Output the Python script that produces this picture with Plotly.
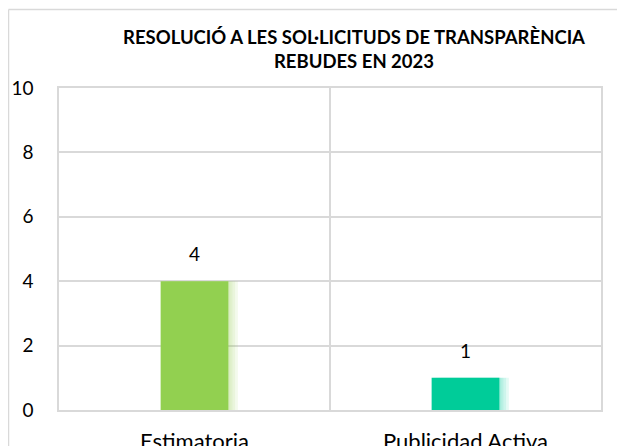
import plotly.graph_objects as go

categories = ["Estimatoria", "Publicidad Activa"]
values = [4, 1]
colors = ["#92D050", "#00CC99"]
glow_colors = ["rgba(146,208,80,0.10)", "rgba(0,204,153,0.10)"]
title_lines = ["RESOLUCIÓ A LES SOL·LICITUDS DE TRANSPARÈNCIA", "REBUDES EN 2023"]
y_ticks = [0, 2, 4, 6, 8, 10]

FONT = "Lato, 'Open Sans', sans-serif"
xpos = list(range(len(categories)))

# page body adds ~8px offset, so the figure is slightly smaller than the window
W, H = 617, 438
L, R, T, B = 51, 24, 80, 36
PW, PH = W - L - R, H - T - B

fig = go.Figure()
# soft glow on right side of bars
for off in [0.035, 0.025, 0.015, 0.007]:
    fig.add_trace(go.Bar(x=[p + off for p in xpos], y=values, width=0.25,
                         marker=dict(color=glow_colors, line=dict(width=0)),
                         hoverinfo="skip", showlegend=False))
fig.add_trace(go.Bar(x=xpos, y=values, width=0.25,
                     marker=dict(color=colors, line=dict(width=0)),
                     showlegend=False))

annotations = [dict(x=p, y=v, xref="x", yref="y", text=str(v), showarrow=False,
                    yanchor="bottom", yshift=14,
                    font=dict(size=19, color="#000000", family=FONT))
               for p, v in zip(xpos, values)]

def px_x(v):
    return (v - L) / PW

def px_y(v):
    return (PH + T - v) / PH

border = dict(color="#d9d9d9", width=1.5)

fig.update_layout(
    width=W, height=H,
    margin=dict(l=L, r=R, t=T, b=B),
    paper_bgcolor="white", plot_bgcolor="white",
    barmode="overlay", showlegend=False,
    font=dict(family=FONT, color="#000000"),
    title=dict(text="<b>" + "<br>".join(title_lines) + "</b>",
               x=346 / W, xanchor="center", y=1 - 36 / H, yanchor="top",
               font=dict(size=18.5, family=FONT, color="#000000")),
    xaxis=dict(range=[-0.5, 1.5], tickvals=xpos, ticktext=categories,
               showgrid=False, zeroline=False, automargin=False,
               showline=True, linecolor="#d9d9d9", linewidth=1.5, mirror=True,
               ticks="", tickfont=dict(size=22, color="#000000"),
               ticklabelstandoff=11,
               minor=dict(tickvals=[0.5], showgrid=True, gridcolor="#d9d9d9", gridwidth=1.5, ticks="")),
    yaxis=dict(range=[0, 10], tickvals=y_ticks, showgrid=True, gridcolor="#d9d9d9", gridwidth=1.5,
               zeroline=False, showline=True, linecolor="#d9d9d9", linewidth=1.5, mirror=True,
               automargin=False,
               ticks="", tickfont=dict(size=19, color="#000000"), ticklabelstandoff=20),
    annotations=annotations,
    shapes=[
        dict(type="line", xref="paper", yref="paper", x0=px_x(0.5), x1=px_x(W + 20),
             y0=px_y(1.5), y1=px_y(1.5), line=border, layer="below"),
        dict(type="line", xref="paper", yref="paper", x0=px_x(0.5), x1=px_x(0.5),
             y0=px_y(1.5), y1=px_y(H + 20), line=border, layer="below"),
    ],
)

fig.write_html("out.html")
